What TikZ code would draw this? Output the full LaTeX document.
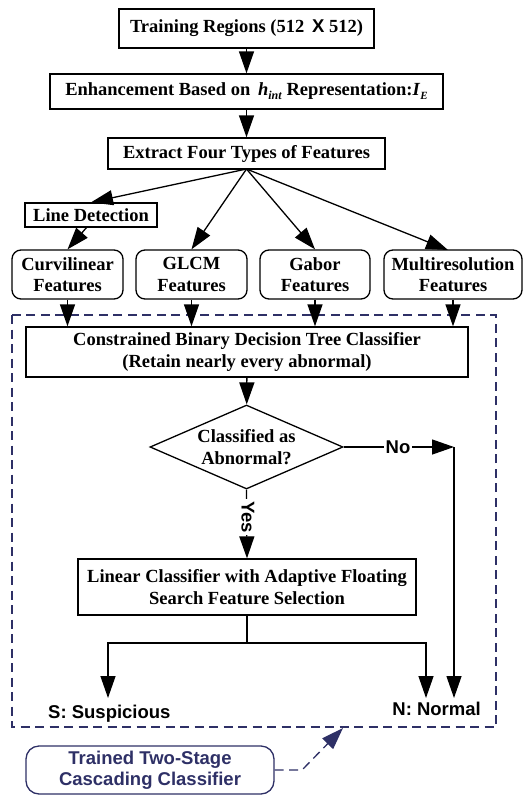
\documentclass[tikz,border=0pt]{standalone}
\usepackage{fontspec}
\setmainfont{Liberation Serif}
\setsansfont{Liberation Sans}
\usetikzlibrary{arrows.meta,shapes.geometric}
\definecolor{navy}{RGB}{46,48,102}
\tikzset{
  box/.style={draw, line width=1.3pt, font=\fontsize{18.5}{21.5}\selectfont\bfseries, align=center, inner sep=0pt},
  fbox/.style={box, rounded corners=9pt, minimum height=49pt},
  lbl/.style={font=\fontsize{18.5}{21.5}\selectfont\sffamily\bfseries, inner sep=1pt},
  arr/.style={line width=1.3pt, -{Triangle[length=22pt,width=15pt]}},
  ln/.style={line width=1.3pt},
}
\begin{document}
\begin{tikzpicture}[x=1pt,y=-1pt]
\useasboundingbox (0,0) rectangle (532,795);
\node[box, minimum width=255pt, minimum height=39pt] (tr) at (246.5,28.5) {Training Regions (512 \,{\sffamily X} 512)};
\node[box, minimum width=393pt, minimum height=35pt] (en) at (246.5,91.5) {Enhancement Based on \,\textit{h}\raisebox{-4pt}{\fontsize{12}{12}\selectfont\textit{int}} Representation:\textit{I}\raisebox{-4pt}{\fontsize{11}{11}\selectfont\textit{E}}};
\node[box, minimum width=277pt, minimum height=31pt] (ex) at (246.5,153.5) {Extract Four Types of Features};
\node[box, minimum width=132pt, minimum height=24pt] (ld) at (91,215) {Line Detection};
\node[fbox, minimum width=111pt] (cu) at (67.5,274.5) {Curvilinear\\Features};
\node[fbox, minimum width=111pt] (gl) at (191.5,274.5) {GLCM\\Features};
\node[fbox, minimum width=110pt] (ga) at (315,274.5) {Gabor\\Features};
\node[fbox, minimum width=138pt] (mu) at (453,274.5) {Multiresolution\\Features};
\node[box, minimum width=442pt, minimum height=50pt] (cb) at (247,352) {Constrained Binary Decision Tree Classifier\\(Retain nearly every abnormal)};
\node[box, diamond, aspect=2.3, minimum width=193pt, minimum height=84pt] (di) at (246.5,447) {Classified as\\Abnormal?};
\node[box, minimum width=338pt, minimum height=56pt] (lc) at (247,587) {Linear Classifier with Adaptive Floating\\Search Feature Selection};
\node[lbl, anchor=west] (sus) at (47,714) {S: Suspicious};
\node[lbl, anchor=east] (nor) at (482,709) {N: Normal};
\node[box, rounded corners=13pt, draw=navy, text=navy, minimum width=248pt, minimum height=48pt, font=\fontsize{18.5}{21.5}\selectfont\sffamily\bfseries] (tt) at (150,770) {Trained Two-Stage\\Cascading Classifier};
% dashed region
\draw[navy, line width=1.3pt, dash pattern=on 9pt off 5.5pt] (12,315) rectangle (496,727);
\coordinate (dbot) at (343,728);
% arrows
\draw[arr] (tr) -- (en);
\draw[arr] (en) -- (ex);
\coordinate (fan) at (246.5,169);
\draw[arr] (fan) -- (ld.north);
\draw[arr] (fan) -- (gl.north);
\draw[arr] (fan) -- (ga.north);
\draw[arr] (fan) -- (448,250);
\draw[arr] (87,227) -- (cu.north);
\draw[arr] (cu.south) -- (cu.south |- cb.north);
\draw[arr] (gl.south) -- (gl.south |- cb.north);
\draw[arr] (ga.south) -- (ga.south |- cb.north);
\draw[arr] (mu.south) -- (mu.south |- cb.north);
\draw[arr] (cb) -- (di);
\draw[arr] (di.south) -- (lc.north);
\node[lbl, rotate=-90, fill=white, inner sep=2pt] (yes) at (248,517) {Yes};
\coordinate (nc) at (454,447);
\draw[arr] (di.east) -- (nc);
\node[lbl, fill=white, inner sep=2pt] (no) at (398,447) {No};
\coordinate (nb) at (454,698);
\draw[arr] (nc) -- (nb);
\coordinate (sp) at (247,643);
\coordinate (sl) at (108,643);
\coordinate (sr) at (426,643);
\draw[ln] (lc.south) -- (sp);
\draw[arr] (sp) -- (sl) -- (108,698);
\draw[arr] (sp) -- (sr) -- (426,698);
\draw[navy, line width=1.3pt, dash pattern=on 9pt off 5.5pt, -{Triangle[length=22pt,width=15pt]}] (tt.east) -- (302,770) -- (dbot);
\end{tikzpicture}
\end{document}
